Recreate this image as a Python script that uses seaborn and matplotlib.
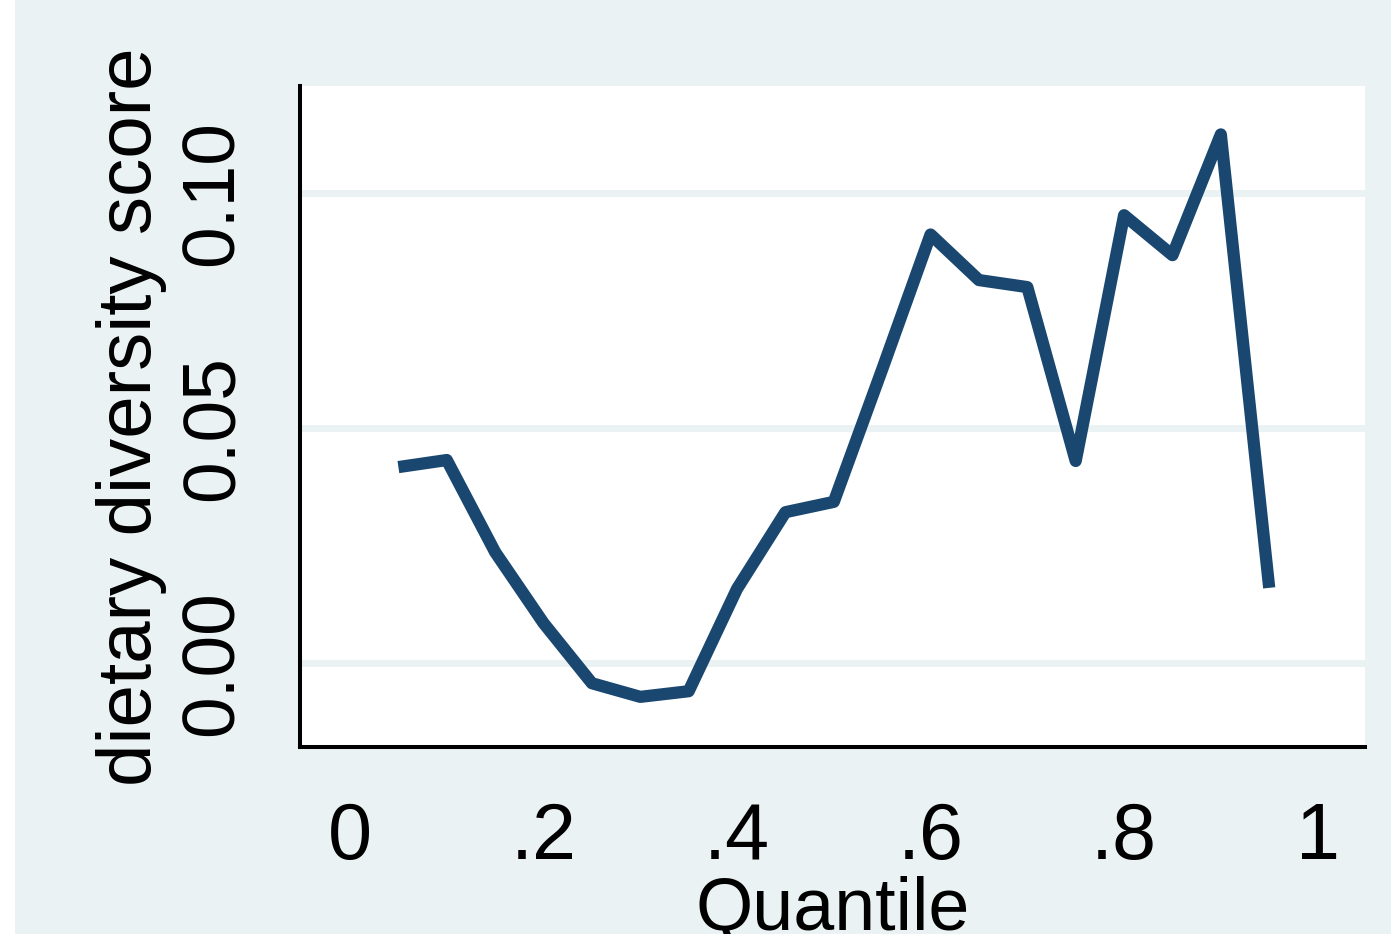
import matplotlib
matplotlib.use("Agg")
import matplotlib.pyplot as plt
import seaborn as sns
import pandas as pd

# Quantile regression coefficients on dietary diversity score
quantiles = [0.05, 0.10, 0.15, 0.20, 0.25, 0.30, 0.35, 0.40, 0.45, 0.50,
             0.55, 0.60, 0.65, 0.70, 0.75, 0.80, 0.85, 0.90, 0.95]
coef = [0.0417, 0.0432, 0.0236, 0.0085, -0.0043, -0.0072, -0.0060, 0.0158, 0.0321, 0.0343,
        0.0625, 0.0912, 0.0815, 0.0800, 0.0430, 0.0953, 0.0868, 0.1125, 0.0160]

x_ticks = [0, 0.2, 0.4, 0.6, 0.8, 1.0]
x_tick_labels = ["0", ".2", ".4", ".6", ".8", "1"]
y_ticks = [0.00, 0.05, 0.10]
y_tick_labels = ["0.00", "0.05", "0.10"]

df = pd.DataFrame({"Quantile": quantiles, "coef": coef})

sns.set_style("white")
plt.rcParams["font.family"] = ["Liberation Sans", "DejaVu Sans"]

BG = "#EAF2F3"
LINE = "#1A476F"

fig = plt.figure(figsize=(13.91, 9.34), dpi=100, facecolor="white")
# outer graph region
fig.patches.append(plt.Rectangle((15 / 1391, 0), 1 - 15 / 1391, 1,
                                 transform=fig.transFigure, facecolor=BG,
                                 edgecolor="none", zorder=-10))

ax = fig.add_axes([300 / 1391, 1 - 747 / 934, 1065 / 1391, 661 / 934])
ax.set_facecolor("white")

for yv in y_ticks:
    ax.axhline(yv, color=BG, lw=5, zorder=1)

sns.lineplot(data=df, x="Quantile", y="coef", ax=ax, color=LINE, lw=8.8,
             solid_capstyle="butt", solid_joinstyle="round", zorder=3)

ax.set_xlim(-0.0517, 1.049)
ax.set_ylim(-0.01787, 0.1228)

ax.set_xticks(x_ticks)
ax.set_xticklabels(x_tick_labels)
ax.set_yticks(y_ticks)
ax.set_yticklabels(y_tick_labels, rotation=90, va="center")

for side in ["top", "right"]:
    ax.spines[side].set_visible(False)
for side in ["left", "bottom"]:
    ax.spines[side].set_color("black")
    ax.spines[side].set_linewidth(2.9)

ax.tick_params(axis="both", which="major", length=21, width=2.9, color="black",
               labelcolor="black")
ax.tick_params(axis="x", pad=18, labelsize=57)
ax.tick_params(axis="y", pad=17, labelsize=54)

ax.set_xlabel("Quantile", fontsize=53, color="black", labelpad=0)
ax.set_ylabel("dietary diversity score", fontsize=55, color="black", labelpad=8)

fig.savefig("out.png", dpi=100, facecolor="white")
